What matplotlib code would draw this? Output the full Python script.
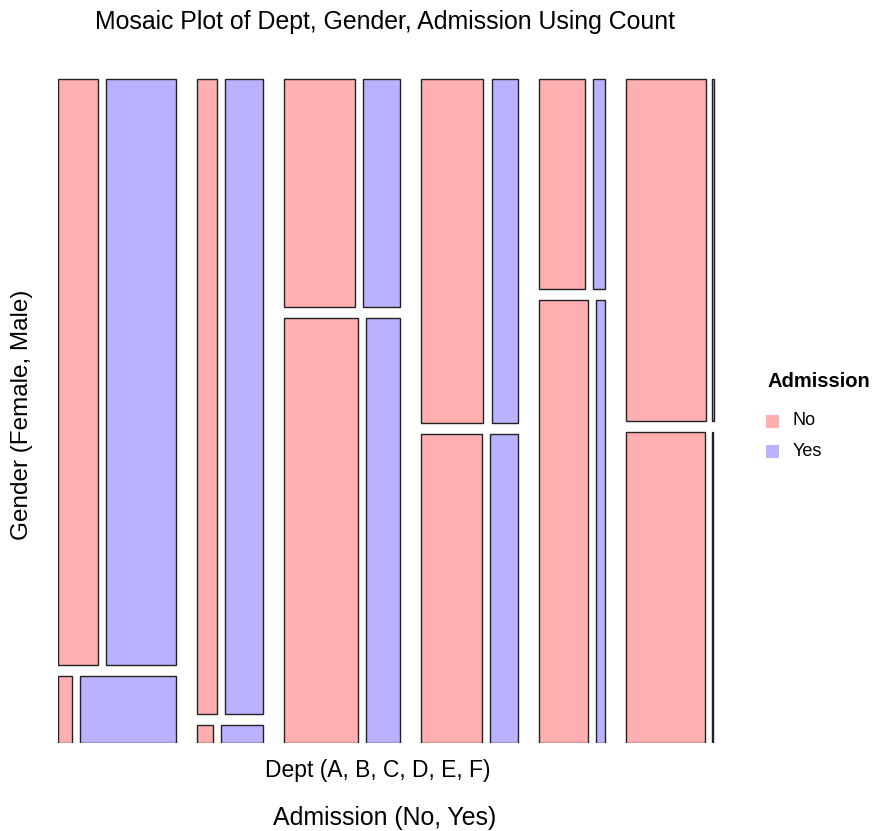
import matplotlib
matplotlib.use("Agg")
import matplotlib.pyplot as plt
from matplotlib.patches import Rectangle
import numpy as np

plt.rcParams['font.family'] = ['Liberation Sans', 'DejaVu Sans']

# UCB admissions counts
depts = ['A', 'B', 'C', 'D', 'E', 'F']
genders = ['Female', 'Male']
admission = ['No', 'Yes']
female_no = [19, 8, 391, 244, 299, 317]
female_yes = [89, 17, 202, 131, 94, 24]
male_no = [313, 207, 205, 279, 138, 351]
male_yes = [512, 353, 120, 138, 53, 22]

colors = {'No': '#FFAFB0', 'Yes': '#B8B2FF'}

# gaps between pieces at each level (fraction of the panel)
gap_dept = 0.0311
gap_gender = 0.0163
gap_adm = 0.0119

counts = {
    'Female': {'No': np.array(female_no), 'Yes': np.array(female_yes)},
    'Male': {'No': np.array(male_no), 'Yes': np.array(male_yes)},
}


def split(start, length, weights, gap):
    """nominal pieces proportional to weights, each one shortened by the gap"""
    w = np.asarray(weights, dtype=float)
    edges = start + length * np.concatenate([[0], np.cumsum(w)]) / w.sum()
    return [(edges[i], edges[i + 1] - edges[i] - gap) for i in range(len(w))]


fig = plt.figure(figsize=(8.73, 8.31), dpi=100)
ax = fig.add_axes([58.3 / 873, 88 / 831, 674.3 / 873, 675 / 831])
ax.set_xlim(0, 1)
ax.set_ylim(0, 1)
ax.axis('off')

dept_tot = [sum(counts[g][a][i] for g in genders for a in admission) for i in range(len(depts))]
dept_pieces = split(0, 1, dept_tot, gap_dept)

for i, (x0, wd) in enumerate(dept_pieces):
    gen_tot = [counts[g]['No'][i] + counts[g]['Yes'][i] for g in genders]
    gen_pieces = split(0, 1, gen_tot, gap_gender)
    for g, (y0, hg) in zip(genders, gen_pieces):
        adm_pieces = split(x0, wd + gap_adm, [counts[g][a][i] for a in admission], gap_adm)
        for a, (xa, wa) in zip(admission, adm_pieces):
            ax.add_patch(Rectangle((xa, y0), wa, hg, facecolor=colors[a],
                                   edgecolor='#222222', linewidth=1.0))

fig.text(385 / 873, 1 - 22 / 831, 'Mosaic Plot of Dept, Gender, Admission Using Count',
         ha='center', va='center', fontsize=17.9)
fig.text(377.5 / 873, 1 - 771 / 831, 'Dept (A, B, C, D, E, F)', ha='center', va='center', fontsize=16.5)
fig.text(385 / 873, 1 - 818 / 831, 'Admission (No, Yes)', ha='center', va='center', fontsize=17.9)
fig.text(22 / 873, 1 - 415 / 831, 'Gender (Female, Male)', ha='center', va='center',
         rotation=90, fontsize=17.5)

# legend
fig.text(768 / 873, 1 - 381 / 831, 'Admission', ha='left', va='center',
         fontsize=14.5, fontweight='bold')
for k, a in enumerate(admission):
    yc = 421 + 30 * k
    fig.patches.append(Rectangle((766 / 873, 1 - (yc + 6.5) / 831), 13 / 873, 13 / 831,
                                 transform=fig.transFigure, facecolor=colors[a],
                                 edgecolor='none'))
    fig.text(793 / 873, 1 - yc / 831, a, ha='left', va='center', fontsize=13)

fig.savefig('out.png', dpi=100)
